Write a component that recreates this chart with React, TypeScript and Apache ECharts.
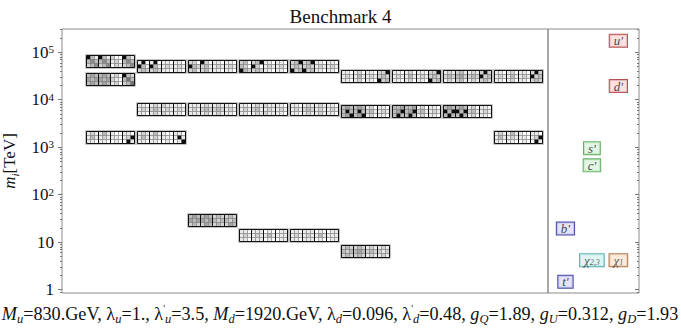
import React, { useEffect, useRef } from "react";
import * as echarts from "echarts";

const titleText = "Benchmark 4";
const yLogMin = -0.07;
const yLogMax = 5.49;
const yTickMasses = [1, 10, 100, 1000, 10000, 100000];

// heavy-state mass blocks (column index, mass in TeV, 3x12 shading pattern 0=white..9=black)
const blockColumn = [1, 1, 1, 2, 2, 2, 3, 3, 3, 4, 4, 4, 5, 5, 5, 6, 6, 6, 7, 7, 8, 8, 9, 9];
const blockMass = [
  65000, 27500, 1610,
  52000, 6530, 1610,
  52000, 6530, 29.2,
  52000, 6530, 14.4,
  52000, 6530, 14.4,
  32400, 5880, 6.37,
  32400, 5880,
  32400, 5880,
  32400, 1620,
];
const blockCells = [
  "931931200931/353353120353/235235021235",
  "343343120932/434434210363/343343120236",
  "121131100110/131121110129/110110010091",
  "190190110110/931931121121/232232110110",
  "110121211110/121232121121/110121211110",
  "121131100110/131121110191/110110010019",
  "220920110110/932231121121/231231110110",
  "111121121110/121232232121/111121121110",
  "343343232232/434434323323/232243232243",
  "230239110110/320920121121/932232110110",
  "110121211110/121231121121/110121211110",
  "110111010011/121121131111/110111010011",
  "239239110110/232232121121/923923110110",
  "110121121110/121232121121/110121121110",
  "110111010011/121121131111/110111010011",
  "110120110229/121131121232/110120110923",
  "343343120110/393393231121/349349120110",
  "232232121121/323343232212/232232121121",
  "110120110229/121131121232/110120110923",
  "334334120110/349349231121/393393120110",
  "121231121292/232342232923/121231121232",
  "343343120110/939939231121/393393120110",
  "110120110292/121131121923/110120110232",
  "121131100110/131121110129/110110010091",
];

// light states (right panel)
const particleLabels = ["u'", "d'", "s'", "c'", "b'", "{g|χ}{s|2,3}", "{g|χ}{s|1}", "t'"];
const particleMass = [175000, 19400, 955, 415, 19.4, 4.18, 4.18, 1.47];
const particleSlot = [2, 2, 1, 1, 0, 1, 2, 0];
const particleFamily = ["up", "up", "light", "light", "heavy", "chi23", "chi1", "heavy"];

const familyStyle: Record<string, { fill: string; stroke: string }> = {
  up: { fill: "#f9dada", stroke: "#a3262b" },
  light: { fill: "#dcf4dc", stroke: "#3f9e3f" },
  heavy: { fill: "#dedcfb", stroke: "#1c1c8e" },
  chi23: { fill: "#d6f4f4", stroke: "#3a9e9e" },
  chi1: { fill: "#fbe6d2", stroke: "#9a5a28" },
};

const paramText =
  "{i|M}{s|u}=830.GeV, λ{s|u}=1., λ{p|'}{s|u}=3.5, {i|M}{s|d}=1920.GeV, λ{s|d}=0.096, λ{p|'}{s|d}=0.48, {i|g}{s|Q}=1.89, {i|g}{s|U}=0.312, {i|g}{s|D}=1.93";

const serif = "Liberation Serif";
const grayLevels = [255, 234, 210, 186, 162, 138, 114, 90, 60, 12];

export default function App() {
  const ref = useRef<HTMLDivElement>(null);
  useEffect(() => {
    const chart = echarts.init(ref.current!, null, { renderer: "svg" });
    const majorLog = yTickMasses.map((m) => Math.log10(m));
    const minorLog: number[] = [];
    for (let k = -1; k <= 5; k++) {
      for (let m = 2; m <= 9; m++) {
        const v = k + Math.log10(m);
        if (v > yLogMin && v < yLogMax) minorLog.push(v);
      }
    }
    const fmt = (v: number) => {
      const e = Math.round(v);
      if (e === 0) return "1";
      if (e === 1) return "10";
      return "10{sup|" + e + "}";
    };
    const renderBlock = (params: any, api: any) => {
      const x = api.value(0);
      const y = api.value(1);
      const idx = api.value(2);
      const [cx, cy] = api.coord([x, y]);
      const cw = 4, ch = 4, W = 48, H = 12;
      const x0 = Math.round(cx - W / 2) + 0.5;
      const y0 = Math.round(cy - H / 2) + 0.5;
      const rows = blockCells[idx].split("/");
      const children: any[] = [];
      children.push({ type: "rect", shape: { x: x0 - 1, y: y0 - 1, width: W + 2, height: H + 2 }, style: { fill: "none", stroke: "#c4c4c4", lineWidth: 1 } });
      rows.forEach((row, r) => {
        for (let c = 0; c < 12; c++) {
          const g = grayLevels[Number(row[c])];
          children.push({ type: "rect", shape: { x: x0 + c * cw, y: y0 + r * ch, width: cw, height: ch }, style: { fill: `rgb(${g},${g},${g})`, stroke: "#707070", lineWidth: 0.5 } });
        }
      });
      for (let gI = 0; gI < 4; gI++) {
        children.push({ type: "rect", shape: { x: x0 + gI * 3 * cw, y: y0, width: 3 * cw, height: H }, style: { fill: "none", stroke: "#111", lineWidth: 1 } });
      }
      return { type: "group", children };
    };
    const hiddenLine = { show: false, onZero: false };

    const option: any = {
      animation: false,
      backgroundColor: "#fff",
      textStyle: { fontFamily: serif },
      title: { text: titleText, left: "center", top: 2, textStyle: { fontFamily: serif, fontWeight: "normal", fontSize: 19, color: "#111" } },
      grid: [
        { left: 62, top: 29, width: 486, height: 264, show: true, borderColor: "#8a8a8a", borderWidth: 1, outerBoundsMode: "none", containLabel: false },
        { left: 548, top: 29, width: 91, height: 264, show: true, borderColor: "#8a8a8a", borderWidth: 1, outerBoundsMode: "none", containLabel: false },
      ],
      xAxis: [
        { type: "value", gridIndex: 0, min: 0.06, max: 9.58, show: false },
        { type: "value", gridIndex: 1, min: -0.66, max: 2.78, show: false },
      ],
      yAxis: [
        {
          type: "value", gridIndex: 0, min: yLogMin, max: yLogMax, position: "left",
          axisLine: hiddenLine, splitLine: { show: false },
          axisTick: { show: true, customValues: majorLog, length: 4, lineStyle: { color: "#777" } },
          axisLabel: {
            customValues: majorLog, formatter: fmt, fontSize: 17, fontFamily: serif, color: "#111", margin: 8,
            rich: { sup: { fontSize: 11, fontFamily: serif, color: "#111", verticalAlign: "top", lineHeight: 9 } },
          },
          name: "{i|m}{s|i}[TeV]", nameLocation: "middle", nameGap: 42,
          nameTextStyle: {
            fontSize: 17, fontFamily: serif, color: "#111", lineHeight: 22,
            rich: {
              i: { fontSize: 17, fontFamily: serif, fontStyle: "italic", color: "#111", lineHeight: 22 },
              s: { fontSize: 11, fontFamily: serif, fontStyle: "italic", color: "#111", verticalAlign: "bottom", lineHeight: 10 },
            },
          },
        },
        {
          type: "value", gridIndex: 0, min: yLogMin, max: yLogMax, position: "left",
          axisLine: hiddenLine, splitLine: { show: false },
          axisTick: { show: true, customValues: minorLog, length: 2, lineStyle: { color: "#777" } },
          axisLabel: { show: false, customValues: minorLog },
        },
        {
          type: "value", gridIndex: 1, min: yLogMin, max: yLogMax, position: "right",
          axisLine: hiddenLine, splitLine: { show: false },
          axisTick: { show: true, inside: true, customValues: majorLog, length: 4, lineStyle: { color: "#777" } },
          axisLabel: { show: false, customValues: majorLog },
        },
        {
          type: "value", gridIndex: 1, min: yLogMin, max: yLogMax, position: "right",
          axisLine: hiddenLine, splitLine: { show: false },
          axisTick: { show: true, inside: true, customValues: minorLog, length: 2, lineStyle: { color: "#777" } },
          axisLabel: { show: false, customValues: minorLog },
        },
      ],
      series: [
        { type: "custom", xAxisIndex: 0, yAxisIndex: 0, data: blockColumn.map((c, i) => [c, Math.log10(blockMass[i]), i]), renderItem: renderBlock, silent: true },
        {
          type: "scatter", xAxisIndex: 1, yAxisIndex: 2, symbolSize: 1, itemStyle: { color: "rgba(0,0,0,0)" }, silent: true,
          data: particleLabels.map((lab, i) => ({
            value: [particleSlot[i], Math.log10(particleMass[i])],
            label: {
              show: true, position: "inside", formatter: lab, fontFamily: serif, fontStyle: "italic", fontSize: 13, lineHeight: 12, color: "#111",
              padding: [0, 4, 0, 4], backgroundColor: familyStyle[particleFamily[i]].fill, borderColor: familyStyle[particleFamily[i]].stroke, borderWidth: 1,
              rich: {
                g: { fontFamily: serif, fontStyle: "italic", fontSize: 13, lineHeight: 12, color: "#333" },
                s: { fontFamily: serif, fontSize: 8, lineHeight: 8, verticalAlign: "bottom", color: "#333" },
              },
            },
          })),
        },
      ],
      graphic: [
        {
          type: "text", x: 340, y: 314,
          style: {
            text: paramText, align: "center", verticalAlign: "middle", fontFamily: serif, fontSize: 18.2, lineHeight: 22, fill: "#111",
            rich: {
              i: { fontFamily: serif, fontStyle: "italic", fontSize: 18.2, lineHeight: 22, fill: "#111", color: "#111" },
              s: { fontFamily: serif, fontStyle: "italic", fontSize: 12.5, lineHeight: 10, verticalAlign: "bottom", fill: "#111", color: "#111" },
              p: { fontFamily: serif, fontSize: 10, lineHeight: 9, verticalAlign: "top", fill: "#111", color: "#111" },
            },
          },
        },
      ],
    };
    chart.setOption(option);
    return () => chart.dispose();
  }, []);
  return <div ref={ref} style={{ position: "fixed", left: 0, top: 0, width: 681, height: 331 }} />;
}
